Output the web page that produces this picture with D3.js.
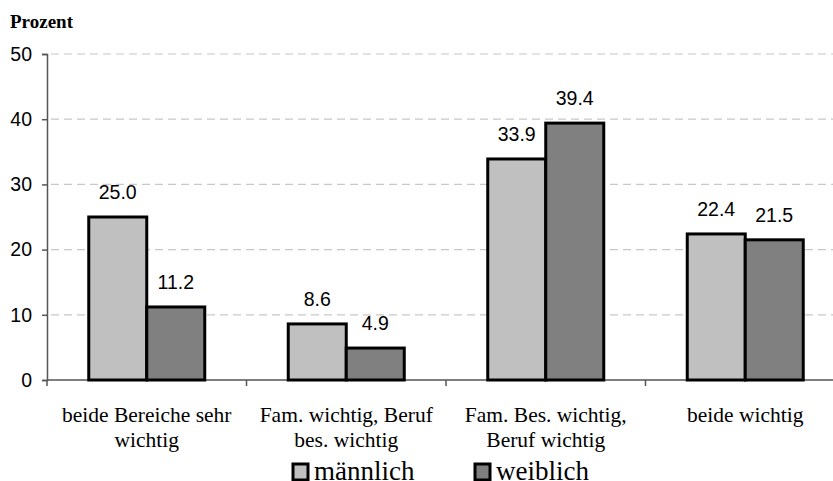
<!DOCTYPE html>
<html lang="de">
<head>
<meta charset="utf-8">
<title>Prozent</title>
<script src="https://d3js.org/d3.v7.min.js"></script>
<style>
  body { margin: 0; background: #fff; }
  svg { display: block; }
  .serif { font-family: "Liberation Serif", "DejaVu Serif", serif; fill: #000; }
  .sans { font-family: "Liberation Sans", Arial, sans-serif; fill: #000; }
</style>
</head>
<body>
<svg id="chart" width="833" height="481"></svg>
<script>
// ---------------- data ----------------
var categories = [
  ["beide Bereiche sehr", "wichtig"],
  ["Fam. wichtig, Beruf", "bes. wichtig"],
  ["Fam. Bes. wichtig,", "Beruf wichtig"],
  ["beide wichtig"]
];
var seriesNames = ["männlich", "weiblich"];
var maleValues = [25.0, 8.6, 33.9, 22.4];
var femaleValues = [11.2, 4.9, 39.4, 21.5];
var yTicks = [0, 10, 20, 30, 40, 50];
var colors = ["#c0c0c0", "#808080"];

// ---------------- layout ----------------
var svg = d3.select("#chart");
var plotLeft = 47, plotRight = 845, plotTop = 54, plotBottom = 380;

var x = d3.scaleBand().domain(d3.range(categories.length)).range([plotLeft, plotRight]);
var xs = d3.scaleBand().domain([0, 1]).range([0, 116]);
var y = d3.scaleLinear().domain([0, 50]).range([plotBottom, plotTop]);

// grid lines
svg.append("g").selectAll("line")
  .data(yTicks.filter(function (d) { return d > 0; }))
  .enter().append("line")
  .attr("x1", plotLeft + 4).attr("x2", 833)
  .attr("y1", function (d) { return y(d); })
  .attr("y2", function (d) { return y(d); })
  .attr("stroke", "#c8c8c8")
  .attr("stroke-width", 1.2)
  .attr("stroke-dasharray", "8,5");

// y axis
var yAxis = svg.append("g")
  .attr("transform", "translate(" + plotLeft + ",0)")
  .call(d3.axisLeft(y).tickValues(yTicks).tickSize(5).tickPadding(10).tickFormat(d3.format("d")));
yAxis.select(".domain").attr("stroke", "#555").attr("stroke-width", 1.5);
yAxis.selectAll(".tick line").attr("stroke", "#555").attr("stroke-width", 1.5);
yAxis.selectAll(".tick text")
  .attr("class", "sans")
  .attr("font-family", null)
  .style("font-size", "19.5px");

// x axis line + category ticks
svg.append("line")
  .attr("x1", plotLeft).attr("x2", 833)
  .attr("y1", plotBottom).attr("y2", plotBottom)
  .attr("stroke", "#555").attr("stroke-width", 1.5);
svg.append("g").selectAll("line")
  .data(d3.range(categories.length + 1))
  .enter().append("line")
  .attr("x1", function (i) { return plotLeft + i * x.step(); })
  .attr("x2", function (i) { return plotLeft + i * x.step(); })
  .attr("y1", plotBottom).attr("y2", plotBottom + 6)
  .attr("stroke", "#555").attr("stroke-width", 1.5);

// bars
var data = [];
categories.forEach(function (c, i) {
  data.push({ cat: i, s: 0, v: maleValues[i] });
  data.push({ cat: i, s: 1, v: femaleValues[i] });
});
function barX(d) {
  return x(d.cat) + x.bandwidth() / 2 - xs.range()[1] / 2 + xs(d.s);
}
svg.append("g").selectAll("rect")
  .data(data)
  .enter().append("rect")
  .attr("x", barX)
  .attr("y", function (d) { return y(d.v); })
  .attr("width", xs.bandwidth())
  .attr("height", function (d) { return y(0) - y(d.v); })
  .attr("fill", function (d) { return colors[d.s]; })
  .attr("stroke", "#000")
  .attr("stroke-width", 3);

// value labels
svg.append("g").selectAll("text")
  .data(data)
  .enter().append("text")
  .attr("class", "sans")
  .attr("x", function (d) { return barX(d) + xs.bandwidth() / 2; })
  .attr("y", function (d) { return y(d.v) - 18; })
  .attr("text-anchor", "middle")
  .style("font-size", "19.5px")
  .text(function (d) { return d.v.toFixed(1); });

// category labels
var catG = svg.append("g").selectAll("text")
  .data(categories)
  .enter().append("text")
  .attr("class", "serif")
  .attr("text-anchor", "middle")
  .style("font-size", "21.5px")
  .attr("x", function (d, i) { return x(i) + x.bandwidth() / 2; })
  .attr("y", 422);
catG.selectAll("tspan")
  .data(function (d) { return d; })
  .enter().append("tspan")
  .attr("x", function () { return d3.select(this.parentNode).attr("x"); })
  .attr("dy", function (d, i) { return i === 0 ? 0 : 25; })
  .text(function (d) { return d; });

// "Prozent" title
svg.append("text")
  .attr("class", "serif")
  .attr("x", 10).attr("y", 28)
  .style("font-size", "19px")
  .style("font-weight", "bold")
  .text("Prozent");

// legend
var legendX = [293, 475];
var leg = svg.append("g").selectAll("g")
  .data(seriesNames)
  .enter().append("g")
  .attr("transform", function (d, i) { return "translate(" + legendX[i] + ",464)"; });
leg.append("rect")
  .attr("width", 15).attr("height", 16)
  .attr("fill", function (d, i) { return colors[i]; })
  .attr("stroke", "#000").attr("stroke-width", 3);
leg.append("text")
  .attr("class", "serif")
  .attr("x", 21).attr("y", 16)
  .style("font-size", "27px")
  .text(function (d) { return d; });
</script>
</body>
</html>
